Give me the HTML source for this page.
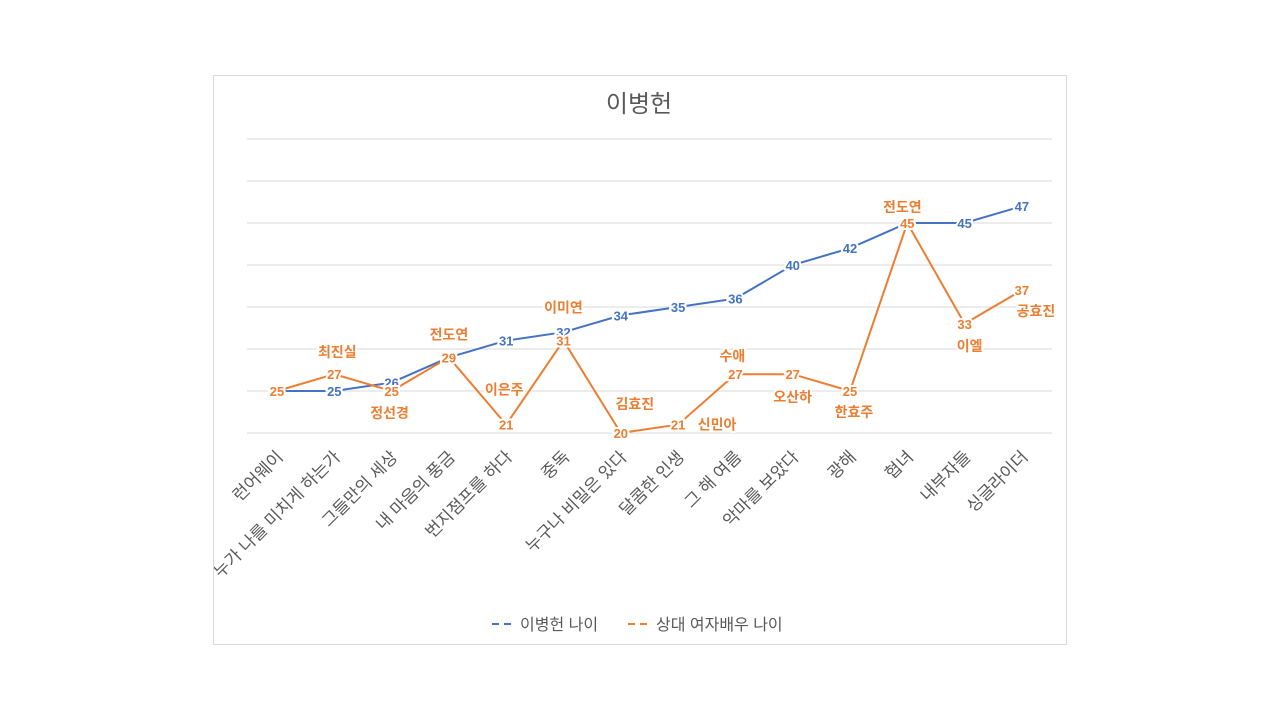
<!DOCTYPE html>
<html><head><meta charset="utf-8"><style>
body{margin:0;background:#fff;width:1280px;height:720px;overflow:hidden}
svg{font-family:"Liberation Sans","Noto Sans CJK KR","NanumGothic",sans-serif}
</style></head><body>
<svg width="1280" height="720">
<defs><clipPath id="fc"><rect x="214" y="76" width="852" height="568"/></clipPath></defs>
<rect x="213.5" y="75.5" width="853" height="569" fill="#fff" stroke="#d9d9d9"/>
<text x="639" y="112" text-anchor="middle" font-size="24" fill="#595959">이병헌</text>
<g id="grid"></g>
<g id="xl" clip-path="url(#fc)"></g>
<g id="lines"></g>
<g id="labels"></g>
<g>
<line x1="492" y1="624" x2="516" y2="624" stroke="#4472C4" stroke-width="2" stroke-dasharray="7,5"/>
<text x="520" y="630" font-size="16" fill="#595959">이병헌 나이</text>
<line x1="628" y1="624" x2="652" y2="624" stroke="#ED7D31" stroke-width="2" stroke-dasharray="7,5"/>
<text x="656" y="630" font-size="16" fill="#595959">상대 여자배우 나이</text>
</g>
</svg>
<script>
const categories=["런어웨이","누가 나를 미치게 하는가","그들만의 세상","내 마음의 풍금","번지점프를 하다","중독","누구나 비밀은 있다","달콤한 인생","그 해 여름","악마를 보았다","광해","협녀","내부자들","싱글라이더"];
const leeAge=[25,25,26,29,31,32,34,35,36,40,42,45,45,47];
const partnerAge=[25,27,25,29,21,31,20,21,27,27,25,45,33,37];
const partnerNames=["","최진실","정선경","전도연","이은주","이미연","김효진","신민아","수애","오산하","한효주","전도연","이엘","공효진"];
const yTicks=[20,25,30,35,40,45,50,55];
const nameOff=[[0,0],[3,-22],[-2,22],[0,-23],[-2,-35],[0,-33],[14,-29],[39,0],[-3,-18],[0,23],[4,21],[-5,-16],[5,22],[14,21]];
const NS="http://www.w3.org/2000/svg";
const X=i=>277+i*57.3, Y=v=>433-(v-20)*8.4;
function mk(t,a,p){const e=document.createElementNS(NS,t);for(const k in a)e.setAttribute(k,a[k]);p.appendChild(e);return e;}
const g=document.getElementById('grid');
yTicks.forEach(v=>{const l=mk('line',{x1:247,x2:1052,y1:Y(v),y2:Y(v),stroke:'#d9d9d9'},g);

});
const xl=document.getElementById('xl');
categories.forEach((c,i)=>{const t=mk('text',{transform:`translate(${X(i)+7},${458}) rotate(-45)`,'text-anchor':'end','font-size':17,fill:'#595959'},xl);t.textContent=c;

});
const lg=document.getElementById('lines');
function line(d,col,nm){const p=mk('polyline',{points:d.map((v,i)=>X(i)+','+Y(v)).join(' '),fill:'none',stroke:col,'stroke-width':2},lg);

}
line(leeAge,'#4472C4','lee-age-line');line(partnerAge,'#ED7D31','partner-age-line');
const lb=document.getElementById('labels');
function lab(x,y,s,col,nm,sz){const t=mk('text',{x:x,y:y+5,'text-anchor':'middle','font-size':sz,'font-weight':'bold',fill:col,stroke:'#fff','stroke-width':4,'paint-order':'stroke'},lb);t.textContent=s;

}
leeAge.forEach((v,i)=>lab(X(i),Y(v),v,'#4472C4','lee-age-value',13));
partnerAge.forEach((v,i)=>lab(X(i),Y(v),v,'#ED7D31','partner-age-value',13));
partnerNames.forEach((n,i)=>{if(n)lab(X(i)+nameOff[i][0],Y(partnerAge[i])+nameOff[i][1],n,'#ED7D31','partner-name',14);});
</script>
</body></html>
